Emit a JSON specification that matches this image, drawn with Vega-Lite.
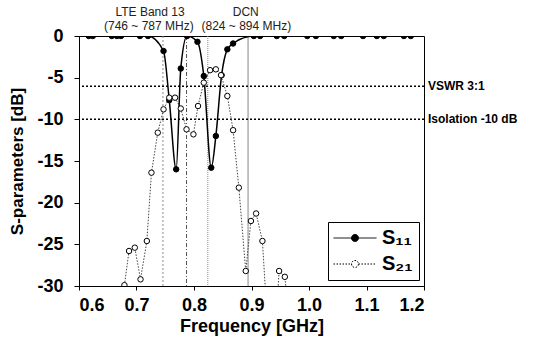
{
  "$schema": "https://vega.github.io/schema/vega-lite/v6.json",
  "width": 345,
  "height": 250,
  "autosize": "none",
  "padding": {"left": 79, "top": 36, "right": 116, "bottom": 57},
  "background": "white",
  "config": {
    "font": "Liberation Sans",
    "view": {"stroke": "black", "strokeWidth": 1},
    "axis": {"grid": false, "domainColor": "black", "tickColor": "black", "labelColor": "black", "titleColor": "black"}
  },
  "datasets": {
    "sp": [
      {"series": "S11", "f": 0.617, "db": 0}, {"series": "S11", "f": 0.624, "db": 0},
      {"series": "S11", "f": 0.657, "db": 0}, {"series": "S11", "f": 0.666, "db": 0},
      {"series": "S11", "f": 0.673, "db": 0}, {"series": "S11", "f": 0.706, "db": 0},
      {"series": "S11", "f": 0.720, "db": 0}, {"series": "S11", "f": 0.747, "db": -1.8},
      {"series": "S11", "f": 0.757, "db": -7.7}, {"series": "S11", "f": 0.769, "db": -16.0},
      {"series": "S11", "f": 0.777, "db": -3.9}, {"series": "S11", "f": 0.788, "db": 0},
      {"series": "S11", "f": 0.806, "db": -0.7}, {"series": "S11", "f": 0.817, "db": -4.8},
      {"series": "S11", "f": 0.830, "db": -15.8}, {"series": "S11", "f": 0.838, "db": -12.0},
      {"series": "S11", "f": 0.848, "db": -4.7}, {"series": "S11", "f": 0.858, "db": -1.6},
      {"series": "S11", "f": 0.868, "db": -0.9}, {"series": "S11", "f": 0.904, "db": 0},
      {"series": "S11", "f": 0.915, "db": 0}, {"series": "S11", "f": 0.944, "db": 0},
      {"series": "S11", "f": 0.957, "db": 0}, {"series": "S11", "f": 0.997, "db": 0},
      {"series": "S11", "f": 1.012, "db": 0}, {"series": "S11", "f": 1.043, "db": 0},
      {"series": "S11", "f": 1.056, "db": 0}, {"series": "S11", "f": 1.094, "db": 0},
      {"series": "S11", "f": 1.118, "db": 0}, {"series": "S11", "f": 1.130, "db": 0},
      {"series": "S11", "f": 1.165, "db": 0}, {"series": "S11", "f": 1.177, "db": 0},
      {"series": "S21", "f": 0.679, "db": -29.9}, {"series": "S21", "f": 0.687, "db": -25.8},
      {"series": "S21", "f": 0.697, "db": -25.4}, {"series": "S21", "f": 0.707, "db": -29.2},
      {"series": "S21", "f": 0.718, "db": -24.6}, {"series": "S21", "f": 0.726, "db": -16.4},
      {"series": "S21", "f": 0.737, "db": -11.6}, {"series": "S21", "f": 0.747, "db": -8.8},
      {"series": "S21", "f": 0.757, "db": -7.4}, {"series": "S21", "f": 0.767, "db": -7.4},
      {"series": "S21", "f": 0.777, "db": -8.7}, {"series": "S21", "f": 0.787, "db": -11.2},
      {"series": "S21", "f": 0.799, "db": -11.8}, {"series": "S21", "f": 0.807, "db": -8.4},
      {"series": "S21", "f": 0.817, "db": -5.6}, {"series": "S21", "f": 0.828, "db": -4.1},
      {"series": "S21", "f": 0.838, "db": -4.0}, {"series": "S21", "f": 0.847, "db": -4.7},
      {"series": "S21", "f": 0.858, "db": -7.2}, {"series": "S21", "f": 0.868, "db": -11.3},
      {"series": "S21", "f": 0.878, "db": -18.2}, {"series": "S21", "f": 0.890, "db": -28.2},
      {"series": "S21", "f": 0.899, "db": -22.2}, {"series": "S21", "f": 0.908, "db": -21.3},
      {"series": "S21", "f": 0.919, "db": -24.6}, {"series": "S21", "f": 0.929, "db": -36},
      {"series": "S21", "f": 0.938, "db": -40}, {"series": "S21", "f": 0.948, "db": -28.2},
      {"series": "S21", "f": 0.958, "db": -28.9}, {"series": "S21", "f": 0.968, "db": -36}
    ],
    "bands": [
      {"label": "LTE Band 13", "f": 0.7235, "db": 2.9},
      {"label": "(746 ~ 787 MHz)", "f": 0.7215, "db": 1.25},
      {"label": "DCN", "f": 0.890, "db": 2.9},
      {"label": "(824 ~ 894 MHz)", "f": 0.891, "db": 1.25}
    ],
    "levels": [
      {"label": "VSWR 3:1", "f": 1.2, "db": -6.02},
      {"label": "Isolation -10 dB", "f": 1.2, "db": -10}
    ]
  },
  "layer": [
    {
      "data": {"values": [{"f": 0.746}]},
      "mark": {"type": "rule", "color": "#888", "strokeWidth": 1, "strokeDash": [2, 2]},
      "encoding": {
        "x": {
          "field": "f", "type": "quantitative",
          "scale": {"domain": [0.6, 1.2], "nice": false, "zero": false},
          "axis": {
            "values": [0.6, 0.7, 0.8, 0.9, 1.0, 1.1, 1.2], "format": ".1f",
            "labelFontSize": 18, "labelFontWeight": "bold", "tickSize": 4, "labelPadding": 6,
            "title": "Frequency [GHz]", "titleFontSize": 18, "titleFontWeight": "bold", "titlePadding": 3
          }
        },
        "y": {
          "datum": 0, "type": "quantitative",
          "scale": {"domain": [-30, 0], "nice": false, "zero": false},
          "axis": {
            "values": [-30, -25, -20, -15, -10, -5, 0], "labelExpr": "'' + datum.value",
            "labelFontSize": 18, "labelFontWeight": "bold", "tickSize": 5, "labelPadding": 11,
            "title": "S-parameters [dB]", "titleFontSize": 17, "titleFontWeight": "bold", "titlePadding": 10
          }
        },
        "y2": {"datum": -30}
      }
    },
    {
      "data": {"values": [{"f": 0.787}]},
      "mark": {"type": "rule", "color": "#555", "strokeWidth": 1, "strokeDash": [4, 2, 1, 2]},
      "encoding": {"x": {"field": "f", "type": "quantitative"}}
    },
    {
      "data": {"values": [{"f": 0.824}]},
      "mark": {"type": "rule", "color": "#888", "strokeWidth": 1, "strokeDash": [1, 1]},
      "encoding": {"x": {"field": "f", "type": "quantitative"}}
    },
    {
      "data": {"values": [{"f": 0.894}]},
      "mark": {"type": "rule", "color": "#888", "strokeWidth": 1},
      "encoding": {"x": {"field": "f", "type": "quantitative"}}
    },
    {
      "data": {"name": "levels"},
      "mark": {"type": "rule", "color": "black", "strokeWidth": 1.5, "strokeDash": [2, 2]},
      "encoding": {"y": {"field": "db", "type": "quantitative"}}
    },
    {
      "data": {"name": "levels"},
      "mark": {"type": "text", "align": "left", "dx": 4, "fontSize": 12, "fontWeight": "bold", "color": "black"},
      "encoding": {
        "x": {"field": "f", "type": "quantitative"},
        "y": {"field": "db", "type": "quantitative"},
        "text": {"field": "label"}
      }
    },
    {
      "data": {"name": "bands"},
      "mark": {"type": "text", "align": "center", "baseline": "middle", "fontSize": 12, "color": "#222"},
      "encoding": {
        "x": {"field": "f", "type": "quantitative"},
        "y": {"field": "db", "type": "quantitative"},
        "text": {"field": "label"}
      }
    },
    {
      "data": {"name": "sp"},
      "transform": [{"filter": "datum.series === 'S21'"}],
      "mark": {"type": "line", "color": "#444", "strokeWidth": 1, "strokeDash": [1.5, 1.5], "clip": true},
      "encoding": {
        "x": {"field": "f", "type": "quantitative"},
        "y": {"field": "db", "type": "quantitative"}
      }
    },
    {
      "data": {"name": "sp"},
      "transform": [{"filter": "datum.series === 'S11'"}],
      "mark": {"type": "line", "color": "black", "strokeWidth": 1.5, "interpolate": "monotone", "clip": true},
      "encoding": {
        "x": {"field": "f", "type": "quantitative"},
        "y": {"field": "db", "type": "quantitative"}
      }
    },
    {
      "data": {"name": "sp"},
      "mark": {"type": "point", "shape": "circle", "filled": true, "stroke": "black", "strokeWidth": 1, "size": 30, "opacity": 1, "clip": true},
      "encoding": {
        "x": {"field": "f", "type": "quantitative"},
        "y": {"field": "db", "type": "quantitative"},
        "fill": {
          "field": "series", "type": "nominal",
          "scale": {"domain": ["S11", "S21"], "range": ["black", "white"]},
          "legend": {
            "orient": "none", "legendX": 249, "legendY": 186, "title": null,
            "strokeColor": "black", "fillColor": "white", "padding": 6,
            "symbolType": "M-4.3,0L-0.7,0M0.7,0L4.3,0M-0.7,0A0.7,0.7,0,1,0,0.7,0A0.7,0.7,0,1,0,-0.7,0Z",
            "symbolSize": 100, "symbolStrokeColor": "black", "symbolStrokeWidth": 1, "symbolOpacity": 1,
            "symbolOffset": 11,
            "labelFontSize": 20, "labelFontWeight": "bold", "labelColor": "black", "labelOffset": 17, "rowPadding": 6,
            "labelExpr": "datum.label === 'S11' ? 'S₁₁' : 'S₂₁'",
            "encode": {
              "symbols": {"update": {"strokeDash": {"signal": "datum.value === 'S21' ? [1.5, 1.5] : [1, 0]"}}}
            }
          }
        }
      }
    }
  ]
}
